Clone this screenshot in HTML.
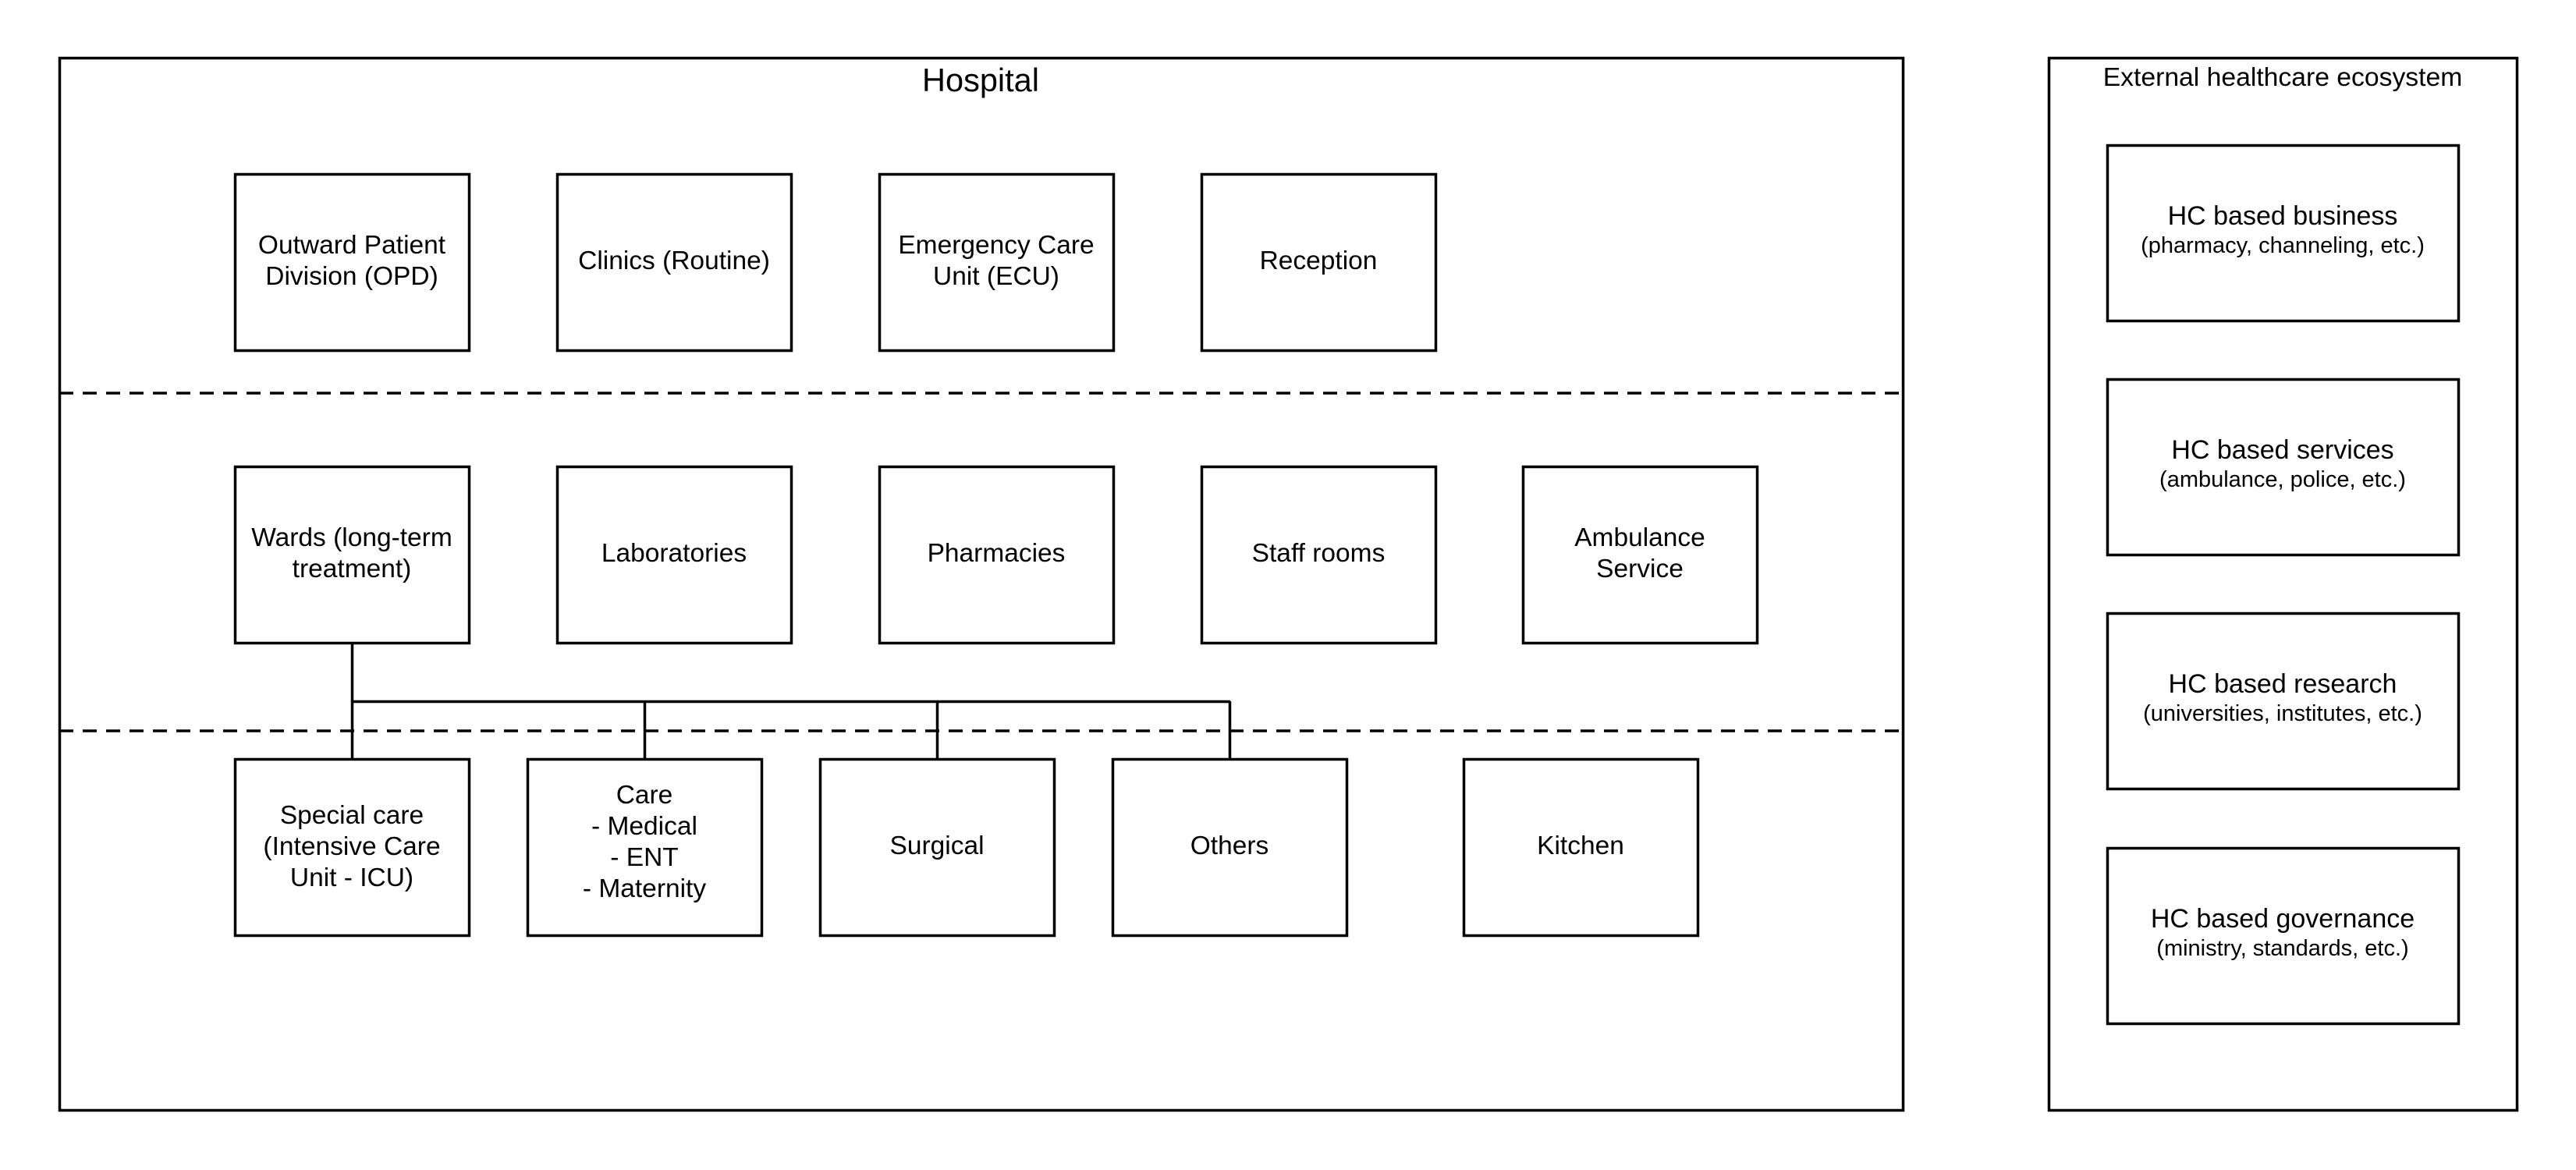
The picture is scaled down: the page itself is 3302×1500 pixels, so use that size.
<!DOCTYPE html>
<html><head><meta charset="utf-8"><style>
html,body{margin:0;padding:0;background:#fff;}
svg{display:block;}
text{font-family:"Liberation Sans",Arial,sans-serif;fill:#000;}
</style></head><body>
<svg width="3302" height="1500" viewBox="0 0 3302 1500" xmlns="http://www.w3.org/2000/svg">
<rect x="0" y="0" width="3302" height="1500" fill="#fff"/>
<g fill="none" stroke="#000" stroke-width="3.5">
<rect x="76.5" y="74.5" width="2363" height="1349"/>
<rect x="2626.5" y="74.5" width="600" height="1349"/>
<line x1="76" y1="504" x2="2439" y2="504" stroke-dasharray="18 12"/>
<line x1="76" y1="937" x2="2439" y2="937" stroke-dasharray="18 12"/>
<rect x="301.5" y="223.5" width="300" height="226"/>
<rect x="714.5" y="223.5" width="300" height="226"/>
<rect x="1127.5" y="223.5" width="300" height="226"/>
<rect x="1540.5" y="223.5" width="300" height="226"/>
<rect x="301.5" y="598.5" width="300" height="226"/>
<rect x="714.5" y="598.5" width="300" height="226"/>
<rect x="1127.5" y="598.5" width="300" height="226"/>
<rect x="1540.5" y="598.5" width="300" height="226"/>
<rect x="1952.5" y="598.5" width="300" height="226"/>
<rect x="301.5" y="973.5" width="300" height="226"/>
<rect x="676.5" y="973.5" width="300" height="226"/>
<rect x="1051.5" y="973.5" width="300" height="226"/>
<rect x="1426.5" y="973.5" width="300" height="226"/>
<rect x="1876.5" y="973.5" width="300" height="226"/>
<line x1="451.5" y1="824" x2="451.5" y2="973"/>
<line x1="450" y1="899.5" x2="1577" y2="899.5"/>
<line x1="826.5" y1="899" x2="826.5" y2="973"/>
<line x1="1201.5" y1="899" x2="1201.5" y2="973"/>
<line x1="1576.5" y1="899" x2="1576.5" y2="973"/>
<rect x="2701.5" y="186.5" width="450" height="225"/>
<rect x="2701.5" y="486.5" width="450" height="225"/>
<rect x="2701.5" y="786.5" width="450" height="225"/>
<rect x="2701.5" y="1087.5" width="450" height="225"/>
</g>
<g text-anchor="middle" font-size="33.5">
<text x="1257" y="117" font-size="41.5">Hospital</text>
<text x="2926" y="110" font-size="33.7">External healthcare ecosystem</text>

<text x="451" y="325">Outward Patient</text><text x="451" y="365">Division (OPD)</text>
<text x="864" y="345">Clinics (Routine)</text>
<text x="1277" y="325">Emergency Care</text><text x="1277" y="365">Unit (ECU)</text>
<text x="1690" y="345">Reception</text>

<text x="451" y="700">Wards (long-term</text><text x="451" y="740">treatment)</text>
<text x="864" y="720">Laboratories</text>
<text x="1277" y="720">Pharmacies</text>
<text x="1690" y="720">Staff rooms</text>
<text x="2102" y="700">Ambulance</text><text x="2102" y="740">Service</text>

<text x="451" y="1056">Special care</text><text x="451" y="1096">(Intensive Care</text><text x="451" y="1136">Unit - ICU)</text>
<text x="826" y="1030">Care</text><text x="826" y="1070">- Medical</text><text x="826" y="1110">- ENT</text><text x="826" y="1150">- Maternity</text>
<text x="1201" y="1095">Surgical</text>
<text x="1576" y="1095">Others</text>
<text x="2026" y="1095">Kitchen</text>

<text x="2926" y="288" font-size="34">HC based business</text><text x="2926" y="324" font-size="29">(pharmacy, channeling, etc.)</text>
<text x="2926" y="588" font-size="34">HC based services</text><text x="2926" y="624" font-size="29">(ambulance, police, etc.)</text>
<text x="2926" y="888" font-size="34">HC based research</text><text x="2926" y="924" font-size="29">(universities, institutes, etc.)</text>
<text x="2926" y="1189" font-size="34">HC based governance</text><text x="2926" y="1225" font-size="29">(ministry, standards, etc.)</text>
</g>
</svg>
</body></html>
